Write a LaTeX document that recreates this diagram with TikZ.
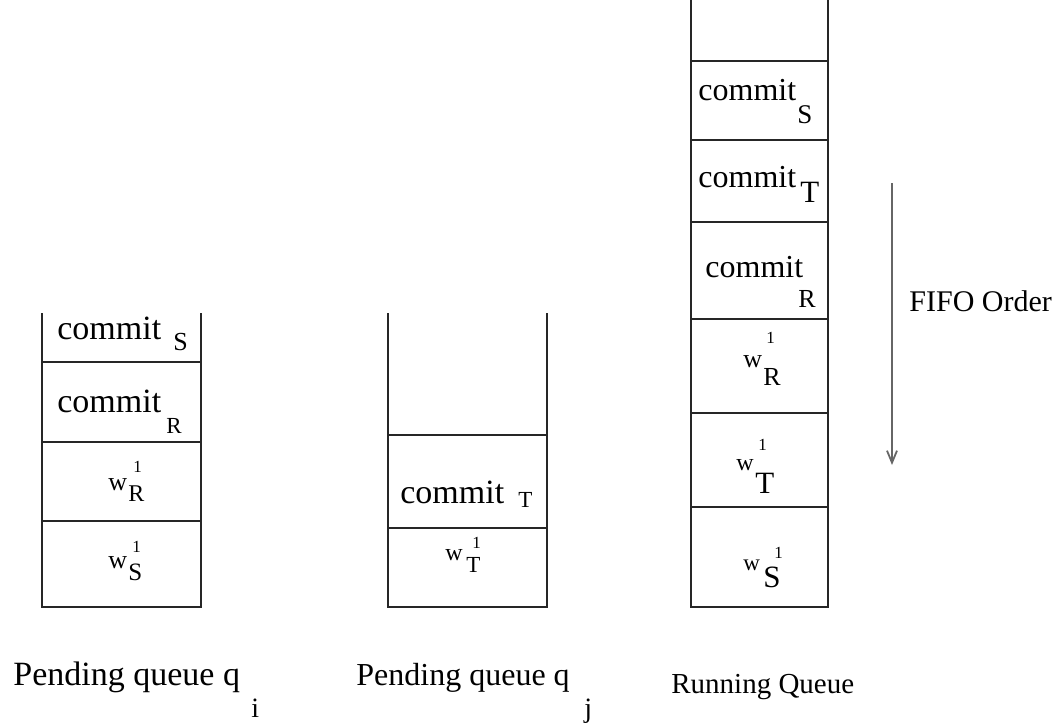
\documentclass[tikz,border=0pt]{standalone}
\usepackage{fontspec}
\setmainfont{Liberation Serif}
\usepackage{tikz}
\usetikzlibrary{arrows.meta}

\newcommand{\fsz}[1]{\fontsize{#1}{#1}\selectfont}
% word with a lowered tag: size, word, tag size, shift, drop, tag
\newcommand{\droplab}[6]{\rlap{\fsz{#1}#2}\hspace*{#4}\raisebox{-#5}{\fsz{#3}#6}}
% w with a lowered tag and a raised 1
\newcommand{\wlab}[7]{\rlap{\fsz{#1}w}\rlap{\hspace*{#4}\raisebox{-#5}{\fsz{#2}#3}}\rlap{\hspace*{#6}\raisebox{#7}{\fsz{8.5}1}}}

\tikzset{
  cell/.style={line width=0.8pt,black!85},
  lab/.style={inner sep=0pt,anchor=base west},
  order/.style={line width=0.9pt,black!60,-{Straight Barb[length=6pt,width=5pt]}}
}

\begin{document}
\begin{tikzpicture}[x=0.5pt,y=-0.5pt]
                \useasboundingbox (0,0) rectangle (1057,723);
                % pending queue i
                \draw [cell] (42,313) -- (42,607) -- (201,607) -- (201,313);
                \foreach \y in {362,442,521} \draw [cell] (42,\y) -- (201,\y);
                \node [lab] (cmtLS) at (57,339) {\droplab{17}{commit}{13}{58pt}{5.5pt}{S}};
                \node [lab] (cmtLR) at (57,412) {\droplab{17}{commit}{11.5}{54.5pt}{10.5pt}{R}};
                \node [lab] (wLR) at (107,490) {\wlab{13}{12}{R}{10pt}{5.5pt}{12.5pt}{9pt}};
                \node [lab] (wLS) at (107,568) {\wlab{13}{12.5}{S}{10pt}{6pt}{12pt}{8pt}};
                % pending queue j
                \draw [cell] (388,313) -- (388,607) -- (547,607) -- (547,313);
                \foreach \y in {435,528} \draw [cell] (388,\y) -- (547,\y);
                \node [lab] (cmtMT) at (400,503) {\droplab{17}{commit}{11.5}{59pt}{2pt}{T}};
                \node [lab] (wMT) at (444,560) {\wlab{12}{11.5}{T}{10.5pt}{6pt}{13.5pt}{6pt}};
                % running queue
                \draw [cell] (691,0) -- (691,607) -- (828,607) -- (828,0);
                \foreach \y in {61,140,222,319,413,507} \draw [cell] (691,\y) -- (828,\y);
                \node [lab] (cmtRS) at (698,100) {\droplab{16}{commit}{13.5}{49.5pt}{11.5pt}{S}};
                \node [lab] (cmtRT) at (698,187) {\droplab{16}{commit}{15.5}{51pt}{7.5pt}{T}};
                \node [lab] (cmtRR) at (705,277) {\droplab{16}{commit}{13}{46.5pt}{15pt}{R}};
                \node [lab] (wRR) at (742,367) {\wlab{13}{13}{R}{10pt}{9pt}{11.5pt}{12pt}};
                \node [lab] (wRT) at (735,470) {\wlab{12}{15.5}{T}{9.5pt}{11.5pt}{11pt}{10pt}};
                \node [lab] (wRS) at (742,570) {\wlab{11.5}{15.5}{S}{10pt}{8.5pt}{15.5pt}{6pt}};
                % order arrow
                \coordinate (fifoTop) at (892,183);
                \coordinate (fifoEnd) at (892,465);
                \draw [order] (fifoTop) -- (fifoEnd);
                \node [lab] (fifo) at (909,311) {\fsz{15}FIFO Order};
                % captions
                \node [lab] (capI) at (13,685) {\droplab{17}{Pending queue q}{14}{119pt}{16pt}{i}};
                \node [lab] (capJ) at (356,685) {\droplab{16}{Pending queue q}{14}{114pt}{16pt}{j}};
                \node [lab] (capRun) at (671,693) {\fsz{14.5}Running Queue};
            \end{tikzpicture}
\end{document}
